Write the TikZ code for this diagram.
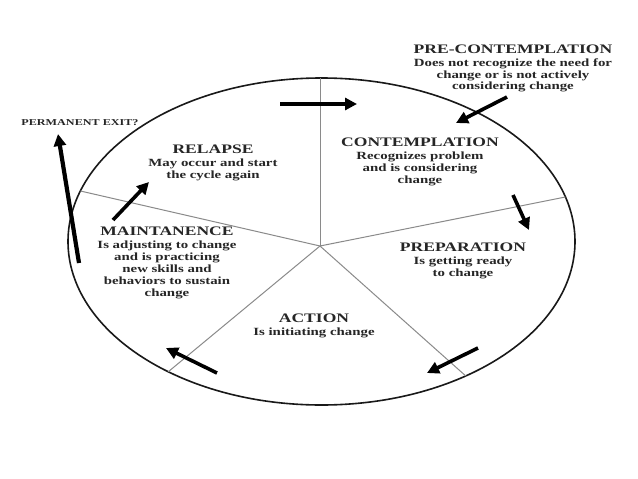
\documentclass[tikz,border=0pt]{standalone}
\usepackage{fontspec}
\newfontfamily\stf{Liberation Serif}[FakeStretch=1.35]
\usetikzlibrary{arrows.meta}
\definecolor{ink}{HTML}{262626}
\definecolor{spokecol}{HTML}{8A8A8A}
\tikzset{
  ring/.style={draw=black!90, line width=1.6pt},
  spoke/.style={draw=spokecol, line width=1pt},
  bigarrow/.style={draw=black, line width=3.6pt, -{Triangle[length=12pt,width=12pt]}},
  stagetext/.style={align=center, inner sep=0pt, text=ink,
    font=\stf\bfseries\fontsize{11}{11.8}\selectfont},
}
\newcommand{\hd}[1]{{\fontsize{13}{13}\selectfont #1}\\[1.2pt]}
\begin{document}
\begin{tikzpicture}[x=1pt,y=-1pt]
\fill[white] (0,0) rectangle (638,479);
\useasboundingbox (0,0) rectangle (638,479);
% ellipse
\coordinate (c) at (321.5,241.5);
\draw[ring] (c) ellipse [x radius=253.5pt, y radius=163.5pt];
% spokes
\coordinate (hub) at (320,246);
\coordinate (ptop) at (320,78);
\coordinate (pleft) at (80.4,191);
\coordinate (pright) at (565.4,197);
\coordinate (plr) at (465.7,375.9);
\coordinate (pll) at (168.2,371.8);
\foreach \p in {ptop,pleft,pright,plr,pll} \draw[spoke] (hub) -- (\p);
% text
\node[stagetext] (pre) at (513,68.5) {\hd{PRE-CONTEMPLATION}Does not recognize the need for\\change or is not actively\\considering change};
\node[stagetext] (cont) at (420,162) {\hd{CONTEMPLATION}Recognizes problem\\and is considering\\change};
\node[stagetext] (prep) at (463,261) {\hd{PREPARATION}Is getting ready\\to change};
\node[stagetext] (act) at (314,326) {\hd{ACTION}Is initiating change};
\node[stagetext] (maint) at (167,263) {\hd{MAINTANENCE}Is adjusting to change\\and is practicing\\new skills and\\behaviors to sustain\\change};
\node[stagetext] (rel) at (213,163) {\hd{RELAPSE}May occur and start\\the cycle again};
\node[stagetext, font=\stf\bfseries\fontsize{9}{9.5}\selectfont] (exit) at (80,123) {PERMANENT EXIT?};
% arrows
\coordinate (a1s) at (280,104); \coordinate (a1e) at (357,104);
\coordinate (a2s) at (507,97);  \coordinate (a2e) at (456,123);
\coordinate (a3s) at (513,195); \coordinate (a3e) at (529,230);
\coordinate (a4s) at (478,348); \coordinate (a4e) at (427,373);
\coordinate (a5s) at (217,373); \coordinate (a5e) at (166,348);
\coordinate (a6s) at (113,220); \coordinate (a6e) at (149,182);
\coordinate (a7s) at (79,263);  \coordinate (a7e) at (58,134);
\draw[bigarrow] (a1s) -- (a1e);
\draw[bigarrow] (a2s) -- (a2e);
\draw[bigarrow] (a3s) -- (a3e);
\draw[bigarrow] (a4s) -- (a4e);
\draw[bigarrow] (a5s) -- (a5e);
\draw[bigarrow] (a6s) -- (a6e);
\draw[bigarrow, line width=4.2pt] (a7s) -- (a7e);
\end{tikzpicture}
\end{document}
